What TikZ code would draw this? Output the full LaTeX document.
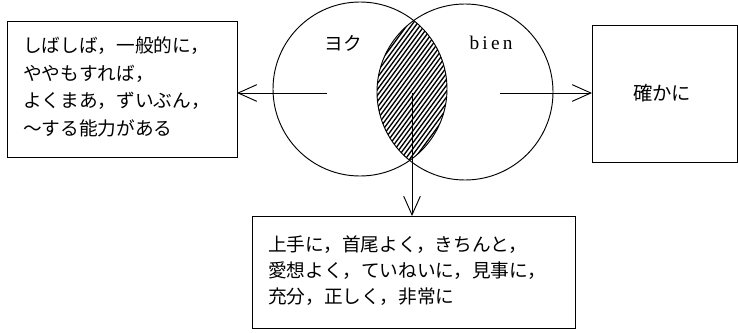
\documentclass[tikz,border=0pt]{standalone}
\usepackage{fontspec}
\newfontfamily\jp{Noto Sans CJK JP}
\newfontfamily\lat{Liberation Serif}
\usetikzlibrary{arrows.meta}
\tikzset{
  box/.style={draw, line width=0.7pt},
  ring/.style={draw, circle, line width=0.7pt, inner sep=0pt},
  arr/.style={line width=0.7pt, -{Straight Barb[length=14pt,width=12.5pt,line width=0.7pt]}},
  jtext/.style={anchor=north west, inner sep=0pt, align=left},
  hatch/.style={line width=1pt}
}
\begin{document}
\begin{tikzpicture}[x=0.75pt,y=-0.75pt]
\useasboundingbox (0,0) rectangle (738,332);
% hatched lens
\begin{scope}
  \clip (360,89) circle[radius=87];
  \clip (465,92) circle[radius=88];
  \foreach \i in {300,304.4,...,515} {
    \draw[hatch] (\i,93) ++(-70,95) -- ++(140,-190);
  }
\end{scope}
\node[ring, minimum size=130.5pt] (L) at (360,89) {};
\node[ring, minimum size=132pt] (R) at (465,92) {};
\node[font=\jp\fontsize{14pt}{17pt}\selectfont] (yoku) at (343,43) {ヨク};
\node[font=\lat\fontsize{14.5pt}{17pt}\selectfont] (bien) at (491,43) {b\,i\,e\,n};
% boxes
\draw[box] (7,21) rectangle (237,157);
\coordinate (lb) at (237,93);
\node[jtext, font=\jp\fontsize{14pt}{20.8pt}\selectfont] (ltxt) at (23,36.5)
  {しばしば，一般的に，\\ややもすれば，\\よくまあ，ずいぶん，\\〜する能力がある};
\draw[box] (592,25) rectangle (737,162);
\coordinate (rb) at (592,93);
\node[font=\jp\fontsize{14.5pt}{17pt}\selectfont, anchor=west, inner sep=0pt] (rtxt) at (633,93) {確かに};
\draw[box] (252,216) rectangle (575,328);
\coordinate (bb) at (412,216);
\node[jtext, font=\jp\fontsize{14pt}{19.5pt}\selectfont] (btxt) at (268,235.5)
  {上手に，首尾よく，きちんと，\\愛想よく，ていねいに，見事に，\\充分，正しく，非常に};
% arrows
\coordinate (ls) at (327,93);
\coordinate (rs) at (500,93);
\coordinate (ds) at (412,93);
\draw[arr] (ls) -- (lb);
\draw[arr] (rs) -- (rb);
\draw[arr] (ds) -- (bb);
\end{tikzpicture}
\end{document}
